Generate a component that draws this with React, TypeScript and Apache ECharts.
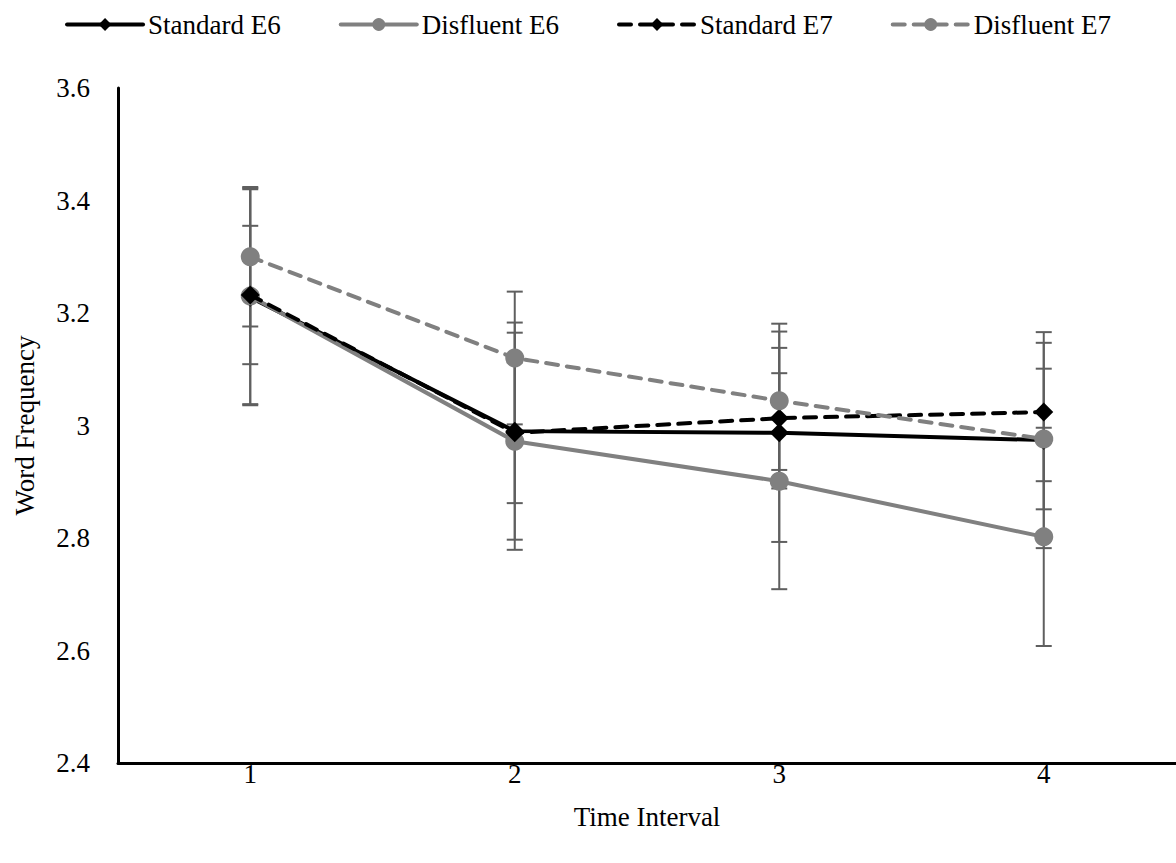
import React, { useEffect, useRef } from "react";
import * as echarts from "echarts";

const categories = ["1", "2", "3", "4"];
const seriesNames = ["Standard E6", "Disfluent E6", "Standard E7", "Disfluent E7"];
const standardE6 = [3.228, 2.99, 2.987, 2.974];
const disfluentE6 = [3.23, 2.972, 2.901, 2.802];
const standardE7 = [3.232, 2.987, 3.013, 3.024];
const disfluentE7 = [3.3, 3.12, 3.044, 2.976];
const errStandardE6 = [0.192, 0.193, 0.194, 0.192];
const errDisfluentE6 = [0.192, 0.193, 0.192, 0.194];
const errStandardE7 = [0.123, 0.125, 0.125, 0.123];
const errDisfluentE7 = [0.124, 0.118, 0.123, 0.125];
const yTicks = { min: 2.4, max: 3.6, interval: 0.2 };

const FONT = "'Liberation Serif', 'Times New Roman', serif";
const FS = 27;

export default function App() {
  const ref = useRef<HTMLDivElement>(null);
  useEffect(() => {
    if (!ref.current) return;
    const chart = echarts.init(ref.current, undefined, { renderer: "svg" });
    const means = [standardE6, disfluentE6, standardE7, disfluentE7];
    const errs = [errStandardE6, errDisfluentE6, errStandardE7, errDisfluentE7];
    const errData: number[][] = [];
    means.forEach((m, s) => {
      m.forEach((v, i) => {
        errData.push([i, v - errs[s][i], v + errs[s][i]]);
      });
    });
    const styles = [
      { color: "#000000", type: "solid", symbol: "diamond" },
      { color: "#808080", type: "solid", symbol: "circle" },
      { color: "#000000", type: [12, 9], symbol: "diamond" },
      { color: "#808080", type: [12, 9], symbol: "circle" },
    ];
    const lineSeries = means.map((m, s) => ({
      name: seriesNames[s],
      type: "line",
      data: m,
      symbol: styles[s].symbol,
      symbolSize: 19,
      itemStyle: { color: styles[s].color },
      lineStyle: { color: styles[s].color, width: 4, type: styles[s].type, cap: "round" },
      z: 3 + s,
    }));
    chart.setOption({
      animation: false,
      textStyle: { fontFamily: FONT },
      legend: {
        top: 6,
        left: "center",
        data: seriesNames,
        itemWidth: 76,
        itemHeight: 16,
        itemGap: 58,
        lineStyle: { width: 4 },
        textStyle: { fontFamily: FONT, fontSize: FS, color: "#000" },
      },
      grid: { left: 118, right: 0, top: 88, bottom: 100, containLabel: false },
      xAxis: {
        type: "category",
        data: categories,
        boundaryGap: true,
        name: "Time Interval",
        nameLocation: "middle",
        nameGap: 40,
        nameTextStyle: { fontFamily: FONT, fontSize: FS, color: "#000" },
        axisLine: { lineStyle: { color: "#000", width: 3 } },
        axisTick: { show: false },
        axisLabel: { fontFamily: FONT, fontSize: FS, color: "#000", margin: -3 },
        splitLine: { show: false },
      },
      yAxis: {
        type: "value",
        min: yTicks.min,
        max: yTicks.max,
        interval: yTicks.interval,
        name: "Word Frequency",
        nameLocation: "middle",
        nameGap: 80,
        nameTextStyle: { fontFamily: FONT, fontSize: FS, color: "#000" },
        axisLine: { show: true, lineStyle: { color: "#000", width: 3 } },
        axisTick: { show: false },
        axisLabel: {
          fontFamily: FONT,
          fontSize: FS,
          color: "#000",
          margin: 28,
          formatter: (v: number) => String(Math.round(v * 10) / 10),
        },
        splitLine: { show: false },
      },
      series: [
        {
          type: "custom",
          name: "errors",
          data: errData,
          z: 2,
          silent: true,
          renderItem: (params: any, api: any) => {
            const x = api.value(0);
            const lo = api.coord([x, api.value(1)]);
            const hi = api.coord([x, api.value(2)]);
            const hw = 8;
            const st = { stroke: "#5f5f5f", lineWidth: 2 };
            return {
              type: "group",
              children: [
                { type: "line", shape: { x1: lo[0], y1: lo[1], x2: hi[0], y2: hi[1] }, style: st },
                { type: "line", shape: { x1: lo[0] - hw, y1: lo[1], x2: lo[0] + hw, y2: lo[1] }, style: st },
                { type: "line", shape: { x1: hi[0] - hw, y1: hi[1], x2: hi[0] + hw, y2: hi[1] }, style: st },
              ],
            };
          },
        },
        ...lineSeries,
      ],
    });
    return () => chart.dispose();
  }, []);
  return (
    <div
      ref={ref}
      style={{ position: "absolute", left: 0, top: 0, width: 1176, height: 863 }}
    />
  );
}
